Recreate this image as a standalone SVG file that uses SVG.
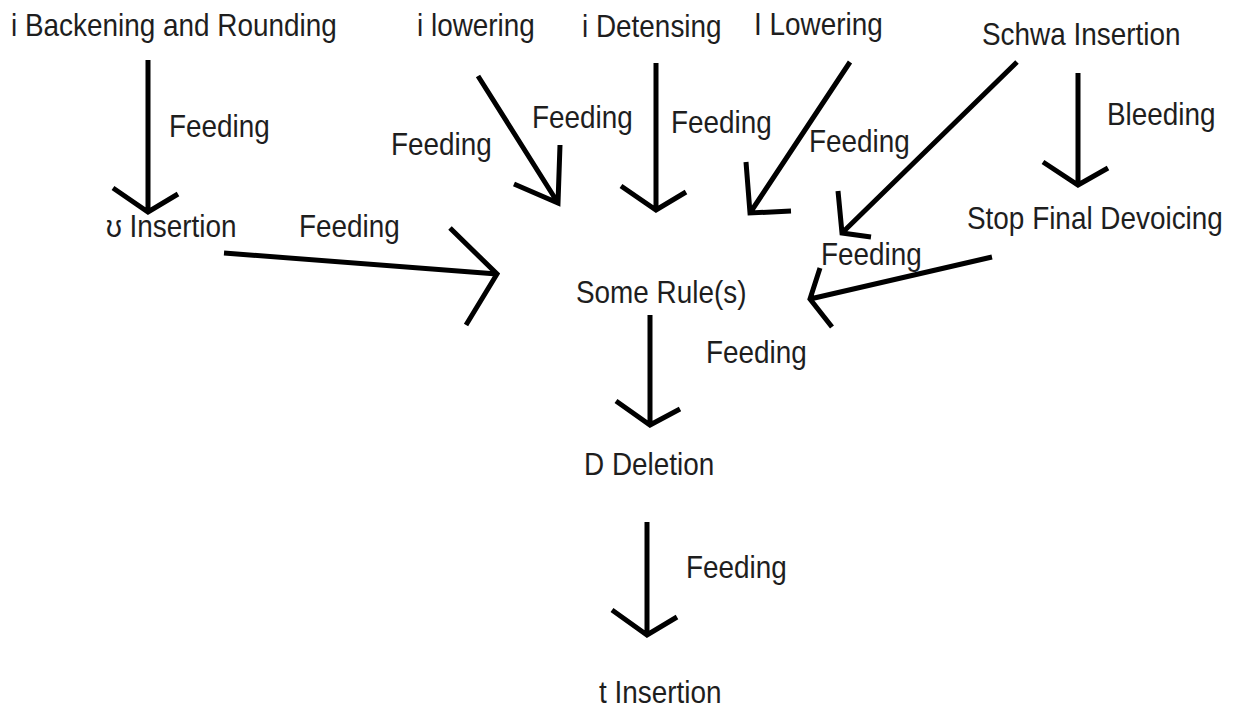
<svg xmlns="http://www.w3.org/2000/svg" width="1234" height="708" viewBox="0 0 1234 708">
<style>
text{font-family:"Liberation Sans",Arial,sans-serif;font-size:31px;fill:#1e1e1e}
.c path{fill:none;stroke:#000;stroke-width:5;stroke-linecap:butt;stroke-linejoin:miter}
</style>
<rect width="1234" height="708" fill="#fff"/>
<g id="n-backening"><text transform="translate(11,36) scale(0.9,1)">i Backening and Rounding</text></g>
<g id="n-ilowering"><text transform="translate(417,36) scale(0.9,1)">i lowering</text></g>
<g id="n-idetensing"><text transform="translate(582,37) scale(0.9,1)">i Detensing</text></g>
<g id="n-Ilowering"><text transform="translate(754,35) scale(0.9,1)">I Lowering</text></g>
<g id="n-schwa"><text transform="translate(982,45) scale(0.9,1)">Schwa Insertion</text></g>
<g id="n-upsilon"><text transform="translate(106,237) scale(0.9,1)">ʊ Insertion</text></g>
<g id="n-stop"><text transform="translate(967,229) scale(0.9,1)">Stop Final Devoicing</text></g>
<g id="n-some"><text transform="translate(576,303) scale(0.9,1)">Some Rule(s)</text></g>
<g id="n-ddel"><text transform="translate(584,475) scale(0.9,1)">D Deletion</text></g>
<g id="n-tins"><text transform="translate(599,703) scale(0.9,1)">t Insertion</text></g>
<g id="labels">
<text transform="translate(169,137) scale(0.9,1)">Feeding</text>
<text transform="translate(299,237) scale(0.9,1)">Feeding</text>
<text transform="translate(391,155) scale(0.9,1)">Feeding</text>
<text transform="translate(532,128) scale(0.9,1)">Feeding</text>
<text transform="translate(671,133) scale(0.9,1)">Feeding</text>
<text transform="translate(809,152) scale(0.9,1)">Feeding</text>
<text transform="translate(1107,125) scale(0.9,1)">Bleeding</text>
<text transform="translate(821,265) scale(0.9,1)">Feeding</text>
<text transform="translate(706,363) scale(0.9,1)">Feeding</text>
<text transform="translate(686,578) scale(0.9,1)">Feeding</text>
</g>
<g id="connectors" class="c">
<path d="M148,60 V212 M113,188 L148,212 L178,194"/>
<path d="M224,253 L497,274 M450,228 L497,274 L466,325"/>
<path d="M478,76 L558,203 M514,184 L558,203 L560,145"/>
<path d="M656,63 V210 M621,186 L656,210 L686,192"/>
<path d="M850,62 L750,213 M746,162 L750,213 L791,211"/>
<path d="M1017,62 L842,233 M838,191 L842,233 L871,237"/>
<path d="M1078,73 V185 M1043,162 L1078,185 L1108,168"/>
<path d="M992,257 L810,299 M820,268 L810,299 L832,327"/>
<path d="M650,315 V425 M616,401 L650,425 L680,409"/>
<path d="M647,522 V635 M612,610 L647,635 L677,617"/>
</g>
</svg>
